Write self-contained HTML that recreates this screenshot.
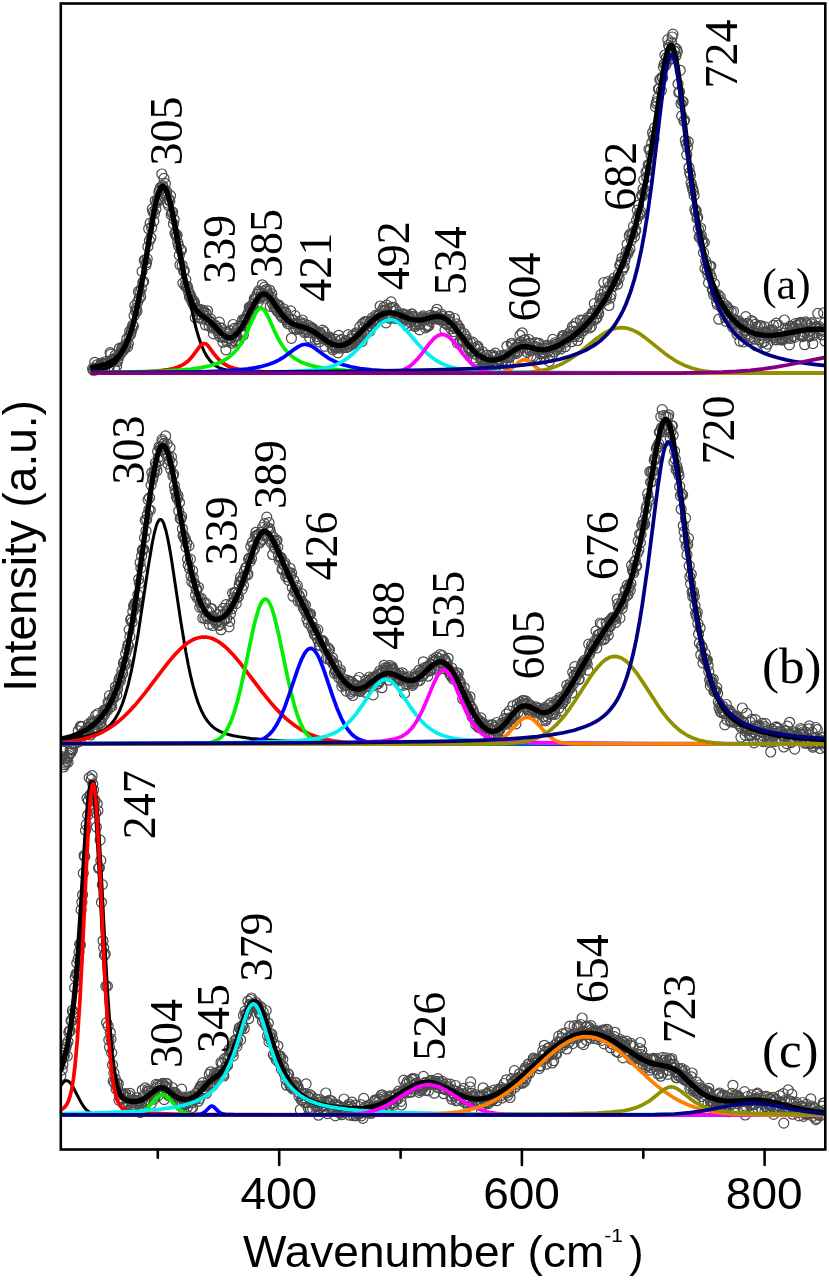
<!DOCTYPE html>
<html><head><meta charset="utf-8"><title>Raman spectra</title>
<style>
html,body{margin:0;padding:0;background:#fff;}
body{width:829px;height:1280px;overflow:hidden;}
svg{display:block;filter:blur(0.45px);}
.ax{font-family:"Liberation Sans",sans-serif;font-size:43px;fill:#000;}
.pk{font-family:"Liberation Serif",serif;font-size:46px;fill:#000;}
</style></head><body>
<svg width="829" height="1280" viewBox="0 0 829 1280">
<rect width="829" height="1280" fill="#fff"/>
<defs><clipPath id="cp"><rect x="60.8" y="3.5" width="764.5" height="1146"/></clipPath>
<marker id="o" markerUnits="userSpaceOnUse" markerWidth="14" markerHeight="14" refX="7" refY="7" overflow="visible"><circle cx="7" cy="7" r="5.0" fill="none" stroke="#4a4a4a" stroke-width="1.2"/></marker></defs>
<g clip-path="url(#cp)">
<polyline points="92.6,368.7 93.3,370.2 94.1,368.2 94.8,362.3 95.5,370 96.2,368.5 97,364.8 97.7,368.7 98.4,367.8 99.2,367.1 99.9,366.1 100.6,367.7 101.3,363 102.1,364.2 102.8,363.4 103.5,367.2 104.3,364.8 105,363.5 105.7,361.5 106.4,363 107.2,363.5 107.9,362.2 108.6,367.6 109.3,366.8 110.1,352.6 110.8,354.1 111.5,361.1 112.3,359.4 113,361.2 113.7,360.3 114.4,368.5 115.2,355.3 115.9,357.5 116.6,366 117.4,361.5 118.1,359.2 118.8,356.1 119.5,348.3 120.3,354.1 121,352.8 121.7,348.6 122.5,347 123.2,350.5 123.9,346.4 124.6,348.1 125.4,347.3 126.1,343.9 126.8,338.9 127.6,346.9 128.3,343.6 129,336.2 129.7,331.1 130.5,334.5 131.2,332.1 131.9,329.1 132.6,325.4 133.4,326.2 134.1,315.7 134.8,305.6 135.6,311.2 136.3,308.2 137,311.2 137.7,302 138.5,291.4 139.2,298.2 139.9,292.1 140.7,296.7 141.4,288.6 142.1,271.4 142.8,282.4 143.6,281.4 144.3,260.2 145,260.1 145.8,265.4 146.5,262.7 147.2,258.9 147.9,246.6 148.7,228.7 149.4,240.6 150.1,223.1 150.9,237.8 151.6,227.8 152.3,208.9 153,211.9 153.8,221.2 154.5,213.5 155.2,200.8 155.9,209 156.7,202.7 157.4,199.6 158.1,200 158.9,191.9 159.6,190.8 160.3,187.8 161,193.2 161.8,174 162.5,185.6 163.2,187.2 164,178.4 164.7,190.7 165.4,183.7 166.1,194.2 166.9,191.6 167.6,203.1 168.3,205.3 169.1,199.5 169.8,201.3 170.5,195.7 171.2,214.6 172,212.7 172.7,211.9 173.4,223.9 174.2,219.5 174.9,233.1 175.6,233.9 176.3,236.3 177.1,235.2 177.8,242.5 178.5,245.8 179.3,255.2 180,265 180.7,249.7 181.4,250.2 182.2,265.3 182.9,283.1 183.6,271.1 184.3,270.8 185.1,285.7 185.8,279.7 186.5,287.3 187.3,286.2 188,288.9 188.7,292.6 189.4,296.7 190.2,294.7 190.9,297 191.6,300.6 192.4,299.5 193.1,304.3 193.8,301.1 194.5,302.6 195.3,317.7 196,308.7 196.7,310.5 197.5,314.4 198.2,308.8 198.9,310.7 199.6,317.2 200.4,314.5 201.1,309.8 201.8,319 202.6,312.8 203.3,310.4 204,312.3 204.7,316.1 205.5,325 206.2,313.3 206.9,320 207.6,310.8 208.4,319.9 209.1,326 209.8,321 210.6,318.9 211.3,322.7 212,328.1 212.7,326.3 213.5,333.9 214.2,327.6 214.9,324.9 215.7,326.1 216.4,327.9 217.1,329.3 217.8,330.8 218.6,333.6 219.3,322.1 220,336.8 220.8,327.9 221.5,328.3 222.2,336.5 222.9,342.2 223.7,337.9 224.4,336.3 225.1,331.9 225.9,349.8 226.6,341.3 227.3,332.2 228,334.1 228.8,338.1 229.5,330.6 230.2,338.5 231,335.6 231.7,343.2 232.4,341.1 233.1,324.5 233.9,336.9 234.6,328.3 235.3,341.2 236,336.2 236.8,336 237.5,328.5 238.2,341.1 239,340.3 239.7,326 240.4,331.8 241.1,325.6 241.9,326.1 242.6,319.8 243.3,335 244.1,319.2 244.8,319.6 245.5,320.1 246.2,317.9 247,316.1 247.7,314.1 248.4,312.9 249.2,307.1 249.9,307.5 250.6,308.7 251.3,308.3 252.1,308.8 252.8,304.2 253.5,308 254.3,298.8 255,299.5 255.7,299.5 256.4,297 257.2,294.3 257.9,302.4 258.6,290.9 259.3,292.2 260.1,298.2 260.8,296.4 261.5,293.2 262.3,284.8 263,296.1 263.7,295.3 264.4,287.1 265.2,298 265.9,291.1 266.6,289.3 267.4,295.7 268.1,294 268.8,296.6 269.5,290 270.3,306.4 271,296.6 271.7,293.8 272.5,303.6 273.2,300.6 273.9,307.1 274.6,303.3 275.4,307.1 276.1,309.3 276.8,304.6 277.6,311.6 278.3,306.2 279,305.1 279.7,312.4 280.5,315.2 281.2,312.2 281.9,311.2 282.6,317.7 283.4,308.8 284.1,312.1 284.8,317.9 285.6,312.1 286.3,319.3 287,321.2 287.7,323.6 288.5,316.9 289.2,319.3 289.9,324.1 290.7,310.9 291.4,338.3 292.1,319.7 292.8,319.8 293.6,328.4 294.3,323.7 295,315.6 295.8,328.2 296.5,329.5 297.2,323.6 297.9,324.3 298.7,328.3 299.4,321.7 300.1,328.8 300.9,327.7 301.6,323.8 302.3,320 303,326.3 303.8,323.7 304.5,332.6 305.2,328.7 306,331.7 306.7,328.9 307.4,330.1 308.1,325.4 308.9,332.4 309.6,337.8 310.3,329.2 311,327.1 311.8,329.9 312.5,328.6 313.2,328.7 314,333.3 314.7,331.7 315.4,339.9 316.1,332.6 316.9,336.5 317.6,339 318.3,333.4 319.1,342 319.8,332.8 320.5,333 321.2,335.5 322,336.8 322.7,330.1 323.4,338.4 324.2,331.8 324.9,346.3 325.6,339.7 326.3,338 327.1,337.5 327.8,339.6 328.5,341.8 329.3,336.8 330,338.2 330.7,342.1 331.4,340.3 332.2,347.9 332.9,349.8 333.6,345 334.3,347 335.1,339.3 335.8,348.2 336.5,345.2 337.3,347.7 338,352.8 338.7,335.3 339.4,346.8 340.2,340.5 340.9,348.2 341.6,339.3 342.4,343.2 343.1,346.1 343.8,347.6 344.5,344.7 345.3,341.1 346,340.9 346.7,347.5 347.5,343.5 348.2,334.7 348.9,346.2 349.6,343.3 350.4,344.1 351.1,339 351.8,344.5 352.6,335.3 353.3,341.5 354,336.2 354.7,341.7 355.5,342.5 356.2,332.8 356.9,333.9 357.7,337.5 358.4,339.5 359.1,337.3 359.8,326.9 360.6,333.8 361.3,335 362,341.6 362.7,323.5 363.5,328.4 364.2,333.8 364.9,321.7 365.7,322 366.4,329 367.1,331.5 367.8,321.5 368.6,325.7 369.3,323.1 370,331.1 370.8,321.1 371.5,326.6 372.2,317.9 372.9,320.1 373.7,319.7 374.4,324.3 375.1,321.7 375.9,315.2 376.6,320.7 377.3,319.5 378,316.1 378.8,314.4 379.5,314.5 380.2,306 381,316.4 381.7,315.1 382.4,310.3 383.1,317.5 383.9,307 384.6,310.2 385.3,311 386,322.8 386.8,305.1 387.5,315.6 388.2,317.2 389,314.5 389.7,318.3 390.4,307.9 391.1,301.9 391.9,316.6 392.6,307.4 393.3,311.5 394.1,307.5 394.8,318.3 395.5,317.9 396.2,310.4 397,318.5 397.7,315 398.4,314.4 399.2,315.2 399.9,314.4 400.6,318 401.3,316.8 402.1,314.2 402.8,320.7 403.5,313.9 404.3,317.8 405,319.2 405.7,323.7 406.4,315 407.2,326.2 407.9,319.1 408.6,317.1 409.3,315.6 410.1,322 410.8,319.6 411.5,314 412.3,314.1 413,316.9 413.7,316.7 414.4,325.2 415.2,326.5 415.9,324.1 416.6,321.8 417.4,318.1 418.1,320.3 418.8,324.3 419.5,329.9 420.3,324.2 421,318.5 421.7,319.9 422.5,317.2 423.2,315.9 423.9,318.6 424.6,320 425.4,327.8 426.1,319 426.8,325.4 427.6,326.6 428.3,318.4 429,325.6 429.7,321.1 430.5,315.3 431.2,318.9 431.9,317.5 432.7,316.1 433.4,316 434.1,317.6 434.8,318.7 435.6,312.4 436.3,316.6 437,309.3 437.7,317.8 438.5,319.5 439.2,317.4 439.9,318.1 440.7,319.6 441.4,314.1 442.1,316.3 442.8,319.8 443.6,322.3 444.3,319.6 445,330.1 445.8,319.3 446.5,323.7 447.2,324.9 447.9,319.4 448.7,316.7 449.4,316.4 450.1,322.5 450.9,328.8 451.6,325.5 452.3,326.6 453,325.7 453.8,331.7 454.5,318.5 455.2,328 456,328.7 456.7,323.8 457.4,343.1 458.1,326.1 458.9,329.1 459.6,328 460.3,340.5 461,332.4 461.8,339.3 462.5,341.2 463.2,341 464,333.5 464.7,338.9 465.4,350.9 466.1,336.7 466.9,339.7 467.6,343.3 468.3,348.3 469.1,347.4 469.8,349.9 470.5,342.7 471.2,352.2 472,350.6 472.7,342.2 473.4,358 474.2,360.9 474.9,348.3 475.6,354.2 476.3,360.4 477.1,347 477.8,346.1 478.5,349 479.3,354 480,353.3 480.7,359.3 481.4,358.8 482.2,351.5 482.9,360.7 483.6,366.1 484.4,363.7 485.1,363 485.8,359 486.5,363.5 487.3,355.1 488,362.6 488.7,359.4 489.4,364.9 490.2,362.1 490.9,355.3 491.6,360.5 492.4,365.4 493.1,355.1 493.8,357.6 494.5,356.6 495.3,353.2 496,364.2 496.7,365.7 497.5,363.2 498.2,359.8 498.9,358.9 499.6,360.3 500.4,355.6 501.1,362.7 501.8,362.9 502.6,361.9 503.3,356 504,357.2 504.7,355.2 505.5,364.2 506.2,356.7 506.9,346.3 507.7,357.2 508.4,363.4 509.1,357.6 509.8,357.3 510.6,352.7 511.3,343.5 512,343.3 512.7,345.1 513.5,349.8 514.2,352 514.9,352.9 515.7,347.1 516.4,353.6 517.1,347.3 517.8,345.1 518.6,351.6 519.3,343.7 520,335.3 520.8,341.8 521.5,347.1 522.2,332.8 522.9,344.9 523.7,345 524.4,340 525.1,339.8 525.9,344.4 526.6,344.1 527.3,352.4 528,348.5 528.8,339.5 529.5,343.3 530.2,350.6 531,356.2 531.7,349.3 532.4,349.5 533.1,356.7 533.9,347.9 534.6,346.8 535.3,342.6 536,346.6 536.8,359.2 537.5,343.3 538.2,349.5 539,343.3 539.7,350.3 540.4,353.9 541.1,348.7 541.9,353.2 542.6,353.2 543.3,351.9 544.1,357.6 544.8,353.2 545.5,348.3 546.2,346.7 547,345.3 547.7,351.5 548.4,347.6 549.2,361.4 549.9,357 550.6,347.3 551.3,347 552.1,356.1 552.8,339.4 553.5,345.9 554.3,351.7 555,342.8 555.7,344.5 556.4,344.2 557.2,349.3 557.9,346 558.6,347.2 559.4,347 560.1,343.5 560.8,349 561.5,339.6 562.3,337 563,335.5 563.7,335.6 564.4,340.2 565.2,346.7 565.9,342 566.6,337.3 567.4,334.9 568.1,337 568.8,337.6 569.5,336.5 570.3,331.6 571,335.4 571.7,341.7 572.5,326.4 573.2,335 573.9,326.9 574.6,336.5 575.4,331.4 576.1,323 576.8,333.9 577.6,340.5 578.3,331.4 579,336.5 579.7,330.6 580.5,320.2 581.2,332.4 581.9,326.5 582.7,320.3 583.4,330.5 584.1,327.2 584.8,322.8 585.6,327.4 586.3,320.7 587,326.4 587.7,317.7 588.5,323.3 589.2,318.1 589.9,327.8 590.7,320.8 591.4,326.3 592.1,313 592.8,314.3 593.6,320.3 594.3,303.6 595,310.3 595.8,319.1 596.5,313.9 597.2,317.2 597.9,310.9 598.7,313.5 599.4,305.2 600.1,298.4 600.9,294.7 601.6,302.8 602.3,299.9 603,297.8 603.8,282.5 604.5,290.7 605.2,298.2 606,300 606.7,296.3 607.4,290.8 608.1,281.6 608.9,305.5 609.6,286.1 610.3,298.1 611,294.7 611.8,286.7 612.5,281.9 613.2,286.4 614,278 614.7,281 615.4,281.2 616.1,281.5 616.9,279.2 617.6,284.2 618.3,274.4 619.1,278.2 619.8,265.4 620.5,264.7 621.2,261.8 622,257.8 622.7,270.1 623.4,267.7 624.2,266.9 624.9,260.4 625.6,256.8 626.3,251.5 627.1,244.3 627.8,253.9 628.5,251.5 629.3,235.5 630,249 630.7,233.5 631.4,240.1 632.2,234.2 632.9,234 633.6,226.2 634.4,236.8 635.1,231.4 635.8,230 636.5,220.4 637.3,210.2 638,216.3 638.7,205.2 639.4,213.3 640.2,214.6 640.9,211.9 641.6,195.1 642.4,196 643.1,189 643.8,179.9 644.5,192.6 645.3,190.4 646,171.9 646.7,177.3 647.5,170.3 648.2,164.6 648.9,149.3 649.6,164.5 650.4,149.7 651.1,155.2 651.8,142.8 652.6,132.5 653.3,135.8 654,138.9 654.7,127.7 655.5,106.8 656.2,103.5 656.9,101.5 657.7,97.9 658.4,89 659.1,88.8 659.8,79.6 660.6,79.1 661.3,90.6 662,77.3 662.7,77.9 663.5,67.3 664.2,63.9 664.9,55 665.7,65.3 666.4,57.7 667.1,62.2 667.8,39.6 668.6,45 669.3,47.3 670,55.5 670.8,58.3 671.5,42 672.2,37 672.9,34.2 673.7,58.8 674.4,51.1 675.1,48 675.9,56 676.6,49.4 677.3,51.7 678,84 678.8,92.6 679.5,91.8 680.2,70.3 681,103.5 681.7,115.9 682.4,101.6 683.1,101.7 683.9,121.1 684.6,120.1 685.3,140.3 686.1,143.9 686.8,154.7 687.5,147.2 688.2,141.7 689,167.5 689.7,172.6 690.4,175.1 691.1,183 691.9,186.1 692.6,188.8 693.3,191.2 694.1,195.4 694.8,209.2 695.5,211.7 696.2,210.7 697,218.4 697.7,217.2 698.4,228.8 699.2,237.3 699.9,236.4 700.6,228 701.3,235.5 702.1,240.1 702.8,243.1 703.5,252.7 704.3,242.4 705,268.6 705.7,260.9 706.4,263.9 707.2,270.5 707.9,274.5 708.6,282.9 709.4,266 710.1,274.1 710.8,266 711.5,277.6 712.3,289.2 713,290.6 713.7,295 714.4,283.6 715.2,293.4 715.9,296.1 716.6,302.1 717.4,304.5 718.1,294.8 718.8,319.2 719.5,299.9 720.3,297.1 721,306 721.7,307.7 722.5,307.1 723.2,303.1 723.9,314.3 724.6,308.9 725.4,317.4 726.1,321.3 726.8,306.2 727.6,307.8 728.3,309.7 729,316.9 729.7,316.6 730.5,317.9 731.2,311.6 731.9,321.1 732.7,327.3 733.4,311.3 734.1,320 734.8,322.8 735.6,320.1 736.3,321.4 737,334 737.7,331.9 738.5,329.3 739.2,321.2 739.9,341.1 740.7,328 741.4,323.6 742.1,325.6 742.8,324.2 743.6,342 744.3,330.8 745,330.1 745.8,316.6 746.5,334.3 747.2,323.4 747.9,323.7 748.7,335.3 749.4,326 750.1,337.1 750.9,339.3 751.6,320.6 752.3,331.9 753,321.9 753.8,333.2 754.5,339.2 755.2,324.4 756,345.7 756.7,331.7 757.4,326.5 758.1,333.4 758.9,339.7 759.6,325.7 760.3,334.9 761.1,325.8 761.8,342.7 762.5,336 763.2,332.2 764,341.9 764.7,326.8 765.4,332.6 766.1,347.3 766.9,334.5 767.6,344.1 768.3,336.6 769.1,330.7 769.8,333.7 770.5,335.8 771.2,332.6 772,329.8 772.7,330.1 773.4,325.4 774.2,335.8 774.9,337.5 775.6,339.8 776.3,323.1 777.1,339.6 777.8,334.5 778.5,325.1 779.3,335 780,339.6 780.7,337.7 781.4,338.7 782.2,340.1 782.9,339.6 783.6,333.2 784.4,320 785.1,328.4 785.8,335.8 786.5,330.1 787.3,337.3 788,338.1 788.7,333.2 789.4,344.8 790.2,326.1 790.9,338.4 791.6,329.2 792.4,326.6 793.1,335.9 793.8,327.8 794.5,337.3 795.3,323.6 796,331.6 796.7,325.5 797.5,329.5 798.2,328.5 798.9,323.6 799.6,334.8 800.4,322.3 801.1,323.9 801.8,336.1 802.6,336.6 803.3,334.6 804,332.1 804.7,344.7 805.5,321.9 806.2,324.9 806.9,323.1 807.7,335.4 808.4,331.2 809.1,336.6 809.8,335.7 810.6,327.9 811.3,323.9 812,322.7 812.8,343.6 813.5,335.4 814.2,333 814.9,326.9 815.7,327.8 816.4,326.8 817.1,327 817.8,313.4 818.6,328.8 819.3,326.7 820,331.1 820.8,330.6 821.5,334.8 822.2,329.5 822.9,334.6 823.7,312.8 824.4,322.7 825.1,341.2" fill="none" stroke="none" marker-start="url(#o)" marker-mid="url(#o)" marker-end="url(#o)"/>
<path d="M92.6 367.3l7.5-1.5 6-1.7 5-2.2 4-2.6 3.5-3.3 3.5-4.6 3-5.3 3-6.7 3-8.6 2.5-8.7 2.5-10.2 2.5-11.6 4.5-24.1 9-54 2-10.8 2-9.5 2-7.6 1.5-4.2 1-2 1-1.3 1-0.6 0.5 0 0.5 0.1 1 0.9 1.5 2.5 1.5 3.9 2 7.2 3.5 16.5 7 38.4 3.5 17.6 2 8.8 2 7.6 2 6.5 2 5.4 1.5 3.3 1.5 2.8 1.5 2.2 2 2.4 2.5 2.3 6 4.2 3 2.4 3.5 3.4 8.5 9.2 2.5 2 2.5 1.4 1.5 0.4 1.5 0.2 2.5-0.5 2.5-1.5 3-2.8 3-4 3-4.9 9.5-18.4 3.5-5.9 2-2.7 2-1.9 2-1 1.5-0.2 1 0.2 1.5 0.7 1.5 1 1.5 1.5 3 3.8 6.5 9.5 3 4 3.5 3.9 3.5 2.9 2.5 1.6 3 1.5 3 1 8 2.4 5 2.1 5.5 3.2 9.5 6.9 3.5 2.2 4 2 3.5 1 3 0.2 3-0.4 3-1 3.5-1.9 3-2.1 3.5-3 14-14 3-2.8 3-2.4 3.5-2.3 3.5-1.7 3-0.9 3.5-0.4 3 0.2 3.5 0.7 3.5 1.2 10 3.9 3 0.8 3 0.5 3 0.1 3.5-0.3 3.5-0.8 7-1.8 4-0.7 2 0 2 0.2 2 0.6 2 0.8 2 1.1 2 1.5 2 1.7 2.5 2.6 4 4.8 11.5 15.2 3.5 4 3 3 3.5 2.9 3.5 2.2 3.5 1.6 4 1.1 3 0.3 3-0.1 3-0.6 3-1 2.5-1.1 2.5-1.5 10-6.8 3-1.5 2.5-0.8 2.5-0.2 2.5 0.1 2.5 0.5 9 2.4 3 0.4 3 0 4-0.7 4-1.2 4.5-1.8 5-2.6 5-3 5-3.4 4.5-3.4 4.5-3.9 4.5-4.4 4-4.3 4.5-5.3 4-5.3 4-5.8 4-6.3 4-7 3.5-6.6 3.5-7.2 3.5-7.8 3.5-8.5 3-7.9 4.5-13.2 4.5-15.1 4-15.5 4-17.7 4-20.4 3.5-20.2 3.5-22.4 7-47.6 3-18 1.5-7.3 1.5-5.7 1.5-3.6 1-1.3 0.5-0.2 0.5 0 0.5 0.4 0.5 0.5 1 2 1 3 1.5 6.4 2 11.6 3 22.1 7.5 63.4 3.5 27.4 4 27.5 4.5 25.7 2 9.9 2.5 11 2.5 9.7 2.5 8.5 2.5 7.6 3 7.9 3 6.8 3 6 3.5 5.9 4 5.7 4 4.8 4.5 4.5 4.5 3.5 4.5 2.8 5 2.4 5 1.6 3.5 0.8 4 0.5 4 0.2 4.5-0.1 9-1 18.5-3.5 8-1.2 4.5-0.3 4.5-0.1 4.5 0.2 4 0.5" fill="none" stroke="#000" stroke-width="5.3" stroke-linejoin="round" stroke-linecap="round"/>
<path d="M90.8 371.1l7.5-0.8 5.5-1.1 4.5-1.6 4-2.3 3.5-3 3.5-4.4 3-5.1 3-6.6 3-8.3 2.5-8.4 2.5-9.7 2.5-11.1 5-25.5 9.5-53.7 2.5-12.7 2-9 2.5-9.2 2-5.5 1.5-2.8 1-1.2 1-0.7 1-0.2 1 0.4 1 0.9 1 1.4 1.5 3.2 2 5.8 2.5 9.6 4 19.4 9.5 53.7 4 20.9 4.5 19.9 2 7.5 2.5 8.2 2.5 6.8 2.5 5.7 2.5 4.6 3 4.2 3 3.2 3 2.3 3.5 1.9 4 1.4 4 0.9 4.5 0.6 14 0.9 27 0.7 40.5 0.4 141 0.4 373.5 0.1" fill="none" stroke="#000000" stroke-width="3.0" stroke-linejoin="round"/>
<path d="M90.8 372.8l34.5-0.4 22-0.8 8-0.5 7-0.7 6-0.8 5-1.1 4-1.2 3.5-1.5 3-1.6 3-2.1 2.5-2.3 2.5-2.7 8.5-11.4 2-1.7 1-0.4 1-0.1 1 0.2 1 0.5 2 1.9 7 9.5 4 4.5 4 3.3 4 2.3 3 1.3 3 1 7.5 1.7 9.5 1.2 12.5 0.8 15 0.5 20 0.4 66 0.4 464 0.2" fill="none" stroke="#ff0000" stroke-width="3.7" stroke-linejoin="round"/>
<path d="M90.8 372.5l54-0.9 19-0.6 15-0.9 12.5-1.1 10-1.4 8.5-1.8 7.5-2.3 6-2.7 5-3.1 4.5-3.8 2.5-2.6 2-2.4 3.5-5 3.5-6.2 3-6.2 6-13.5 2.5-4.9 1.5-2.3 1-1.2 1.5-1.1 1-0.3 1 0.1 1.5 0.9 1 1 1.5 2.2 3 5.8 7 15.7 4 7.7 2.5 4 2.5 3.4 3 3.5 3 2.9 3.5 2.7 3.5 2.2 4 2 4.5 1.8 5 1.5 5.5 1.3 6.5 1.1 7 1 16 1.3 21 1 27.5 0.7 38 0.5 123.5 0.5 271.5 0.1" fill="none" stroke="#00f000" stroke-width="3.7" stroke-linejoin="round"/>
<path d="M90.8 372.8l66-0.4 42.5-0.6 15.5-0.5 13-0.7 11-0.8 9.5-1 7.5-1.2 6.5-1.4 6-1.7 5.5-2 5-2.4 4.5-2.7 4-2.8 8-6 3-2 3.5-1.6 2-0.5 1.5-0.1 3 0.4 3.5 1.5 3 1.9 9.5 7.1 5 3.3 6.5 3.4 6.5 2.5 8.5 2.3 9.5 1.7 11.5 1.3 14 1 17 0.7 21.5 0.5 64.5 0.7 113.5 0.3 225.5 0.1" fill="none" stroke="#0000ff" stroke-width="3.7" stroke-linejoin="round"/>
<path d="M90.8 373l111-0.3 63.5-0.7 21-0.5 15.5-0.6 11-0.9 9-1.2 7-1.6 6.5-2.1 6-2.9 5.5-3.5 5.5-4.4 5.5-5.3 5-5.5 11-12.8 5.5-5.7 3-2.4 2.5-1.5 3-1.1 2.5-0.3 2.5 0.3 2.5 0.9 2.5 1.5 3 2.4 5.5 5.5 11.5 13.5 5.5 5.9 6 5.6 6 4.6 3 1.8 3.5 1.9 6.5 2.6 7.5 2.1 9 1.4 11.5 1 16.5 0.8 24 0.5 31.5 0.4 95.5 0.5 184 0.2" fill="none" stroke="#00f0f0" stroke-width="3.7" stroke-linejoin="round"/>
<path d="M90.8 373.2l280 0 13.5-0.2 8-0.5 5.5-0.9 4.5-1.3 4-1.8 4-2.6 3.5-3.1 4-4.2 3.5-4.3 8-10.6 4-4.5 2.5-2.2 2-1.3 2.5-1 2-0.3 2 0.3 2.5 1 2 1.3 2.5 2.2 4 4.5 8 10.6 3.5 4.3 4 4.2 3.5 3.1 4 2.6 4.5 2 4.5 1.3 5.5 0.8 8 0.5 14 0.1 313 0" fill="none" stroke="#ff00ff" stroke-width="3.7" stroke-linejoin="round"/>
<path d="M90.8 373.2l405.5-0.1 3.5-0.2 3-0.4 2.5-0.6 2.5-1 2-1.1 2-1.5 6.5-5.7 2-1.5 2.5-1.2 2-0.3 2 0.4 2.5 1.4 8 6.9 2 1.4 2 1.1 2 0.9 2.5 0.7 2.5 0.4 3.5 0.3 12 0.1 264 0" fill="none" stroke="#ff8000" stroke-width="3.7" stroke-linejoin="round"/>
<path d="M90.8 373.2l399 0 24.5-0.3 15-0.7 9.5-1.2 8-1.6 7.5-2.3 7-3 6.5-3.6 7-4.6 6.5-4.9 15-12.2 4-2.9 4-2.7 4.5-2.4 4.5-1.9 4-0.9 4-0.4 3.5 0.2 4 0.9 3.5 1.2 4 1.9 4 2.4 4.5 3.2 20 16 5 3.6 5 3.3 5.5 3.1 6 2.7 6 2.2 6.5 1.7 6 1.1 7 0.9 8 0.6 9.5 0.3 23 0.3 75.5 0" fill="none" stroke="#909000" stroke-width="3.7" stroke-linejoin="round"/>
<path d="M90.8 372.7l155-0.5 105-0.8 73.5-1.2 28.5-0.8 24.5-1 21.5-1.2 18.5-1.5 16-1.8 14-2.1 12.5-2.6 11-3.1 9.5-3.5 4.5-2 4-2.1 4-2.4 4-2.7 3.5-2.6 3.5-3.1 3.5-3.5 3-3.4 3-3.8 2.5-3.6 5-8.4 2.5-5 2.5-5.5 4.5-11.9 4-12.9 3.5-13.5 3.5-16.1 3-16.1 3-18.5 4.5-32.3 9.5-79.3 2-15.5 2-13.3 1.5-8.2 1.5-6.1 1.5-4 1-1.3 0.5-0.3 0.5 0 1 0.9 1 2 1 3 1.5 6.3 2 11.4 3.5 25.9 7 59.2 4 31.4 4 27.3 4 22.9 4.5 21.1 4.5 16.9 2.5 8 2.5 7 3 7.4 3 6.4 3.5 6.4 3.5 5.6 4 5.4 4.5 5.1 4.5 4.3 5 4.1 5.5 3.6 6 3.3 6 2.8 7 2.6 7.5 2.3 8.5 2.1 9 1.8 9.5 1.5 11 1.4 12 1.3" fill="none" stroke="#000080" stroke-width="3.7" stroke-linejoin="round"/>
<path d="M90.8 373.2l546 0 41-0.1 26.5-0.4 17-0.5 15-0.8 14-1.1 13-1.5 12-1.7 12-2.1 40.5-8.1" fill="none" stroke="#800080" stroke-width="3.7" stroke-linejoin="round"/>
<polyline points="60.8,757.7 61.5,756.7 62.2,758.5 62.9,751.2 63.7,767 64.4,764.7 65.1,758.9 65.9,763.1 66.6,761.1 67.3,757.7 68,762.2 68.8,755.6 69.5,753.7 70.2,749.9 71,752.5 71.7,748.7 72.4,749.7 73.1,743 73.9,744.2 74.6,738.6 75.3,743.6 76.1,740 76.8,738.5 77.5,738.2 78.2,730.8 79,736.5 79.7,741.4 80.4,726.4 81.1,726.3 81.9,726.9 82.6,735.2 83.3,732.3 84.1,735.1 84.8,733.5 85.5,730.8 86.2,730.8 87,728.6 87.7,732.3 88.4,724.2 89.2,726.5 89.9,727.2 90.6,735 91.3,723.4 92.1,720.9 92.8,722.7 93.5,727.5 94.3,722.7 95,729.5 95.7,715.5 96.4,727.6 97.2,724.7 97.9,713.7 98.6,720.8 99.4,723.5 100.1,719 100.8,722.8 101.5,726.6 102.3,718.3 103,714.2 103.7,710.4 104.4,714.6 105.2,709.5 105.9,710.4 106.6,708.9 107.4,710.6 108.1,702.1 108.8,703.4 109.5,695.7 110.3,707.1 111,704 111.7,706.4 112.5,697.5 113.2,697.5 113.9,698.1 114.6,693.2 115.4,686.8 116.1,689.6 116.8,695.1 117.6,689.1 118.3,684 119,679.7 119.7,678 120.5,680.6 121.2,676.2 121.9,670.8 122.7,673.4 123.4,663.3 124.1,661.8 124.8,665.3 125.6,653.7 126.3,663 127,649.6 127.8,644.9 128.5,645.6 129.2,629.7 129.9,636.4 130.7,619.7 131.4,618.8 132.1,622.2 132.8,611.5 133.6,605.6 134.3,606.3 135,603 135.8,607.9 136.5,602.1 137.2,605.3 137.9,594.6 138.7,579.3 139.4,583.3 140.1,562.5 140.9,568.1 141.6,555.9 142.3,550.3 143,549.3 143.8,549.4 144.5,537.7 145.2,520.2 146,530.9 146.7,519.6 147.4,514.8 148.1,499.6 148.9,509.6 149.6,497.6 150.3,510.1 151.1,485.1 151.8,472.6 152.5,479.5 153.2,476.4 154,473.1 154.7,470.6 155.4,463 156.1,465.5 156.9,470.8 157.6,451.4 158.3,457.6 159.1,446.7 159.8,460.5 160.5,447.3 161.2,449.3 162,439.7 162.7,441.5 163.4,446.6 164.2,443.3 164.9,449.5 165.6,435.9 166.3,454.4 167.1,443.8 167.8,463.9 168.5,456.4 169.3,460.2 170,447.6 170.7,469.2 171.4,456.9 172.2,463.1 172.9,475.7 173.6,474.1 174.4,485.5 175.1,490.3 175.8,492.3 176.5,496.6 177.3,498.9 178,495.8 178.7,511 179.5,502.5 180.2,518.5 180.9,518.7 181.6,516.4 182.4,528.8 183.1,535.5 183.8,535.6 184.5,538.7 185.3,538.6 186,547.1 186.7,542.8 187.5,559.1 188.2,564.9 188.9,545.9 189.6,568.4 190.4,559.1 191.1,576 191.8,581.8 192.6,570.6 193.3,577.6 194,583.8 194.7,583.8 195.5,595 196.2,589.6 196.9,589.5 197.7,598.4 198.4,587.3 199.1,597.4 199.8,607.3 200.6,602.9 201.3,598.4 202,607 202.8,618 203.5,607.1 204.2,603.4 204.9,618.3 205.7,602.9 206.4,615.8 207.1,611.7 207.8,618.9 208.6,611.2 209.3,624.3 210,617.6 210.8,608.9 211.5,608.5 212.2,616.7 212.9,625.5 213.7,619.8 214.4,619.8 215.1,617.7 215.9,623.2 216.6,621.3 217.3,620.9 218,614.3 218.8,625 219.5,625.4 220.2,611.6 221,629.7 221.7,622 222.4,615.2 223.1,608.4 223.9,620.3 224.6,619.2 225.3,612.8 226.1,604.6 226.8,618.5 227.5,610.8 228.2,608.4 229,626.9 229.7,621.4 230.4,613.8 231.1,603.9 231.9,608.8 232.6,593.1 233.3,602.5 234.1,597.6 234.8,592.3 235.5,592.9 236.2,603.6 237,597.7 237.7,594 238.4,596.9 239.2,585.1 239.9,581.5 240.6,577.2 241.3,582 242.1,589.1 242.8,578.2 243.5,585.1 244.3,571.4 245,576 245.7,567.7 246.4,567.9 247.2,575 247.9,574.2 248.6,559.3 249.4,558 250.1,561.4 250.8,546.4 251.5,558.5 252.3,542.4 253,551.1 253.7,544.8 254.5,548.5 255.2,536.2 255.9,532.3 256.6,535.3 257.4,535.9 258.1,537.8 258.8,534.1 259.5,543 260.3,541.2 261,532.2 261.7,539.3 262.5,527.5 263.2,539.4 263.9,534.4 264.6,523.6 265.4,535.5 266.1,535.9 266.8,517.1 267.6,527.9 268.3,530.3 269,522.6 269.7,528.7 270.5,531.9 271.2,542.5 271.9,540.4 272.7,554.5 273.4,537.3 274.1,547.1 274.8,542.8 275.6,548.7 276.3,541.3 277,540.1 277.8,547.1 278.5,555.7 279.2,560.3 279.9,558.2 280.7,557.3 281.4,558.1 282.1,569.5 282.8,568.9 283.6,564.8 284.3,564.7 285,563 285.8,576.6 286.5,573.5 287.2,571.2 287.9,577 288.7,580.4 289.4,572.8 290.1,568.3 290.9,575.9 291.6,573.1 292.3,587.4 293,596.2 293.8,580.3 294.5,591.9 295.2,589.8 296,587.1 296.7,592.6 297.4,585.7 298.1,601.3 298.9,594.9 299.6,596.8 300.3,601.4 301.1,601.2 301.8,593.8 302.5,602.3 303.2,607.8 304,605.7 304.7,610 305.4,605 306.1,612.5 306.9,619.2 307.6,614.9 308.3,623 309.1,614.9 309.8,613.5 310.5,614.3 311.2,626.3 312,622.3 312.7,629.6 313.4,627.2 314.2,634.2 314.9,634.9 315.6,630.3 316.3,634.1 317.1,638.3 317.8,629.6 318.5,641.3 319.3,645.4 320,645.3 320.7,640.3 321.4,641.1 322.2,641.7 322.9,640.7 323.6,642.2 324.4,647 325.1,648.3 325.8,649.9 326.5,658.3 327.3,647.4 328,659.1 328.7,648.6 329.5,650 330.2,659.4 330.9,660.3 331.6,660.7 332.4,657.8 333.1,663.9 333.8,663.9 334.5,673.2 335.3,669.9 336,671.9 336.7,664.8 337.5,673.9 338.2,671.9 338.9,677.9 339.6,672 340.4,670 341.1,679.9 341.8,686.3 342.6,683.2 343.3,681 344,679 344.7,685.5 345.5,684.4 346.2,691.1 346.9,685.8 347.7,680.4 348.4,684.1 349.1,681.9 349.8,681.3 350.6,693.3 351.3,691.3 352,682.1 352.8,695.5 353.5,689.6 354.2,684.2 354.9,690.8 355.7,688.6 356.4,685.3 357.1,680.5 357.8,689.2 358.6,690.4 359.3,677.5 360,691.3 360.8,691 361.5,686.3 362.2,688.7 362.9,686.8 363.7,684.4 364.4,684.9 365.1,692.2 365.9,680.3 366.6,686.6 367.3,686 368,681.9 368.8,682.5 369.5,677 370.2,680.1 371,683 371.7,683.6 372.4,677.4 373.1,694.9 373.9,677.6 374.6,680 375.3,678.7 376.1,676.7 376.8,684.3 377.5,674.5 378.2,683.9 379,681.9 379.7,671 380.4,680.6 381.2,672.5 381.9,687.7 382.6,672.7 383.3,670.4 384.1,665.3 384.8,667.9 385.5,671.3 386.2,668.9 387,667.9 387.7,670.2 388.4,672.5 389.2,680.1 389.9,665.6 390.6,671.1 391.3,669.1 392.1,666.8 392.8,668.7 393.5,670.2 394.3,678.4 395,673.9 395.7,672.7 396.4,677.9 397.2,677.5 397.9,675.1 398.6,678.6 399.4,673.3 400.1,680.4 400.8,680 401.5,676.1 402.3,672.8 403,685.4 403.7,678.7 404.5,693.4 405.2,677.2 405.9,684 406.6,678.5 407.4,681.5 408.1,684.1 408.8,676.8 409.5,680.2 410.3,681.4 411,681.2 411.7,683.2 412.5,685.3 413.2,684 413.9,681.4 414.6,678.3 415.4,674 416.1,676 416.8,675.8 417.6,680.9 418.3,676.7 419,670.3 419.7,680.6 420.5,672.7 421.2,671.7 421.9,675.6 422.7,675.9 423.4,661.8 424.1,668 424.8,673 425.6,669.8 426.3,667.1 427,666.8 427.8,676.2 428.5,666.6 429.2,671.1 429.9,670.4 430.7,663.8 431.4,669.2 432.1,664.7 432.8,662 433.6,659 434.3,668.5 435,661.3 435.8,660.1 436.5,657.1 437.2,670.4 437.9,665.8 438.7,661.3 439.4,658.5 440.1,654.6 440.9,663.1 441.6,663.3 442.3,655.7 443,668.6 443.8,666.6 444.5,659.1 445.2,660.3 446,661.8 446.7,666.3 447.4,663.9 448.1,658.3 448.9,672.1 449.6,670.8 450.3,674.4 451.1,676.2 451.8,668 452.5,671.8 453.2,679 454,677.4 454.7,674 455.4,674.8 456.2,679.3 456.9,672.9 457.6,677 458.3,673.3 459.1,684.4 459.8,681.4 460.5,683.8 461.2,687.8 462,691.9 462.7,699 463.4,692.7 464.2,687.5 464.9,696.9 465.6,695 466.3,700.4 467.1,697.5 467.8,699.3 468.5,702.2 469.3,703.2 470,696.8 470.7,706.9 471.4,707.1 472.2,717 472.9,710 473.6,712.8 474.4,718.8 475.1,715.8 475.8,724.9 476.5,721.2 477.3,718.8 478,726.7 478.7,727.5 479.5,720.6 480.2,723 480.9,717.9 481.6,724.1 482.4,722.7 483.1,725.2 483.8,726.5 484.5,728.4 485.3,728 486,730.8 486.7,730.2 487.5,727.8 488.2,725.2 488.9,735.5 489.6,736.1 490.4,729.2 491.1,733.6 491.8,724.9 492.6,724.8 493.3,730.2 494,737.4 494.7,726.8 495.5,727.4 496.2,737.1 496.9,722.5 497.7,733.1 498.4,731.1 499.1,728 499.8,729.7 500.6,740.3 501.3,723.4 502,725.5 502.8,724.8 503.5,723 504.2,718.6 504.9,731.3 505.7,724.4 506.4,714.2 507.1,718.6 507.9,722 508.6,720.3 509.3,711.2 510,717.9 510.8,718.1 511.5,718.8 512.2,717.9 512.9,705.8 513.7,721.7 514.4,714.9 515.1,718.9 515.9,723.9 516.6,709.5 517.3,703.6 518,712.2 518.8,707.4 519.5,706.8 520.2,702.4 521,714.5 521.7,705 522.4,700.7 523.1,703.8 523.9,700.7 524.6,706.5 525.3,703.9 526.1,701.1 526.8,708.4 527.5,703.4 528.2,709.7 529,712.2 529.7,705.7 530.4,705 531.2,708 531.9,711.6 532.6,708.6 533.3,709.3 534.1,709 534.8,711.2 535.5,712.9 536.2,706.9 537,708.5 537.7,710.8 538.4,708.3 539.2,711.8 539.9,713.6 540.6,711.8 541.3,709.5 542.1,709.1 542.8,720.3 543.5,716.5 544.3,707.7 545,708.9 545.7,720.8 546.4,719.1 547.2,712.9 547.9,717 548.6,705.2 549.4,710.7 550.1,714.4 550.8,703.2 551.5,706.6 552.3,713.5 553,714 553.7,705.1 554.5,709.6 555.2,714.3 555.9,704.3 556.6,700.6 557.4,704.5 558.1,701.8 558.8,708.3 559.5,702 560.3,697.3 561,710.9 561.7,698.8 562.5,703.5 563.2,701.7 563.9,698.4 564.6,696.1 565.4,699.7 566.1,693.5 566.8,685.3 567.6,692.3 568.3,688.3 569,689.4 569.7,686.9 570.5,683.5 571.2,687.2 571.9,693 572.7,672.2 573.4,683.6 574.1,675.5 574.8,666.7 575.6,678.5 576.3,673.6 577,675.2 577.8,671.9 578.5,679.7 579.2,678.9 579.9,671.4 580.7,670.9 581.4,666 582.1,666.5 582.9,662.5 583.6,663.4 584.3,660.4 585,663 585.8,663.1 586.5,660.7 587.2,664.1 587.9,670.2 588.7,644.1 589.4,654.5 590.1,651.9 590.9,649.9 591.6,645.1 592.3,647.5 593,646.7 593.8,645.6 594.5,644 595.2,640.6 596,631.1 596.7,648 597.4,639.4 598.1,634.8 598.9,639.2 599.6,633.9 600.3,623 601.1,640.3 601.8,624.2 602.5,632.3 603.2,634.9 604,639.5 604.7,638.4 605.4,632 606.2,622.8 606.9,625.7 607.6,631 608.3,635.2 609.1,626.8 609.8,620.8 610.5,626.2 611.2,619.1 612,618.1 612.7,617.3 613.4,617.9 614.2,617.3 614.9,619.4 615.6,622.5 616.3,616.5 617.1,599 617.8,603.9 618.5,608.1 619.3,607.2 620,618.1 620.7,605.3 621.4,603.3 622.2,608.2 622.9,604.1 623.6,596.7 624.4,597.8 625.1,590.2 625.8,590.6 626.5,596.1 627.3,585.1 628,594.8 628.7,588.4 629.5,585.8 630.2,590.2 630.9,583.5 631.6,565.2 632.4,569.5 633.1,571.3 633.8,572.8 634.6,562 635.3,560.7 636,566 636.7,566 637.5,553 638.2,541.1 638.9,550.1 639.6,534.1 640.4,542.6 641.1,534.4 641.8,524.9 642.6,525.9 643.3,520.5 644,525.2 644.7,523.7 645.5,515.1 646.2,508.5 646.9,505.9 647.7,493.7 648.4,498.1 649.1,500.5 649.8,471.7 650.6,482.1 651.3,471.6 652,481.7 652.8,471.4 653.5,470.8 654.2,460.2 654.9,458 655.7,459.2 656.4,448.9 657.1,446.9 657.9,446.5 658.6,443.7 659.3,432.1 660,431.9 660.8,416.6 661.5,427.8 662.2,409.6 662.9,427.4 663.7,415.6 664.4,429.6 665.1,441.2 665.9,416.5 666.6,428.8 667.3,424.8 668,417 668.8,414.8 669.5,428.4 670.2,438.2 671,431.5 671.7,425.8 672.4,425.9 673.1,435.3 673.9,462.1 674.6,451.1 675.3,459 676.1,469.8 676.8,465.9 677.5,469 678.2,472.5 679,475.5 679.7,486.4 680.4,495.8 681.2,509.2 681.9,493.9 682.6,495 683.3,525.5 684.1,531.7 684.8,539 685.5,518.2 686.2,546 687,554.7 687.7,544.5 688.4,538.1 689.2,565.7 689.9,576.6 690.6,583.8 691.3,574.3 692.1,592 692.8,596.7 693.5,591.7 694.3,596.5 695,605.7 695.7,613.2 696.4,616 697.2,612.2 697.9,623.6 698.6,634 699.4,643 700.1,628 700.8,654.8 701.5,645.9 702.3,647.6 703,663.1 703.7,657.5 704.5,658.6 705.2,653.7 705.9,660.4 706.6,660 707.4,660.3 708.1,665.6 708.8,671.6 709.6,680 710.3,685.8 711,678.8 711.7,683.4 712.5,682.6 713.2,679.1 713.9,691.4 714.6,691.2 715.4,690.6 716.1,691 716.8,687.6 717.6,693.4 718.3,701.7 719,708.1 719.7,704.3 720.5,711.8 721.2,707.4 721.9,712.8 722.7,706 723.4,710.6 724.1,713.4 724.8,724.9 725.6,713.3 726.3,704.5 727,719.8 727.8,709.8 728.5,712.1 729.2,713.8 729.9,710.7 730.7,722 731.4,720.9 732.1,713.8 732.9,719.3 733.6,717.4 734.3,722.2 735,717.3 735.8,716.4 736.5,716.6 737.2,719.6 737.9,723.8 738.7,717.9 739.4,721.6 740.1,726 740.9,737.2 741.6,728.3 742.3,708 743,721.5 743.8,723.1 744.5,727 745.2,735.3 746,731.2 746.7,713.4 747.4,728.8 748.1,728.3 748.9,729.8 749.6,735.8 750.3,722 751.1,735 751.8,719.4 752.5,729.5 753.2,731.9 754,742.8 754.7,725.8 755.4,719.7 756.2,734.4 756.9,726.8 757.6,740.3 758.3,726.3 759.1,725.7 759.8,738.7 760.5,731.7 761.2,737.6 762,723.4 762.7,741.6 763.4,728.5 764.2,736.9 764.9,726.6 765.6,723.7 766.3,731.3 767.1,734.4 767.8,742.1 768.5,735.2 769.3,737.7 770,737.2 770.7,752 771.4,729.1 772.2,741.4 772.9,733.2 773.6,735.9 774.4,731.2 775.1,741.4 775.8,727.3 776.5,726.9 777.3,733.5 778,728.1 778.7,739.3 779.5,740.6 780.2,731 780.9,740.1 781.6,731.8 782.4,735.4 783.1,735.7 783.8,747 784.6,736 785.3,730.6 786,730.8 786.7,743.6 787.5,726.2 788.2,733.8 788.9,734.3 789.6,722.3 790.4,733.9 791.1,742.6 791.8,738.5 792.6,731.7 793.3,741.1 794,740.2 794.7,749.1 795.5,732.9 796.2,735.1 796.9,737.6 797.7,736.8 798.4,738 799.1,736.9 799.8,733.8 800.6,728.5 801.3,734.6 802,729.8 802.8,732 803.5,734.8 804.2,740.9 804.9,743.2 805.7,732.2 806.4,740.1 807.1,743.2 807.9,738.2 808.6,728.8 809.3,725.9 810,743.2 810.8,743.9 811.5,740.3 812.2,732.4 812.9,747.2 813.7,745.8 814.4,738.6 815.1,737.6 815.9,727.5 816.6,743.5 817.3,729.6 818,743.1 818.8,743.3 819.5,739.7 820.2,748.5 821,737.5 821.7,742.7 822.4,744 823.1,740.9 823.9,737 824.6,746.6" fill="none" stroke="none" marker-start="url(#o)" marker-mid="url(#o)" marker-end="url(#o)"/>
<path d="M60.8 739l5.5-1.1 5-1.4 5-1.8 4.5-1.9 4-2.1 4-2.5 4-3 3.5-3 3.5-3.6 3-3.6 3-4.1 2.5-4 2.5-4.5 2.5-5.3 2.5-6 2-5.5 3.5-11.3 3.5-13.6 3.5-16.4 3.5-19.1 3-18.7 3-20.5 12-89 2.5-16.3 2-11.5 2-9.5 2-7.3 1-2.8 1-2.1 1-1.4 1-0.7 1-0.1 1 0.6 1 1.2 1 1.9 2 5.3 2.5 9.4 2 9.3 2.5 13.1 8 46 3.5 18.9 4 19.2 3.5 14 3.5 11.5 3.5 8.8 2 4.1 2 3.3 2 2.6 2 2.1 2.5 1.7 2.5 1 2.5 0.2 3-0.6 3-1.6 2.5-2.1 2.5-2.7 2.5-3.5 2.5-4.1 2-3.8 2.5-5.4 2.5-6.1 4.5-12.4 9-27.4 2-5.5 2-4.7 2.5-4.7 2-2.4 1-0.8 1-0.4 1-0.1 1 0.2 1.5 0.9 2 2.1 2 3 2.5 4.6 3.5 7.5 11 25.2 6 13 28 56.4 7.5 14.7 5.5 9.8 4.5 7 4 5.3 4 4.1 3.5 2.5 3 1.2 3 0.5 1.5-0.1 2-0.4 3-1.2 3-1.8 9.5-7.3 4-2.7 3.5-1.6 3.5-0.7 3 0.2 3.5 0.8 3 1.3 6.5 3.2 3.5 1.2 3.5 0.6 3-0.4 3-1.1 3.5-2.3 3.5-3 7.5-7.3 4-3.1 2-1 2-0.6 2-0.1 2 0.4 2.5 1.3 2.5 2.1 2.5 3 3 4.5 5 9.3 12.5 26 4 7.2 3.5 5.3 4 4.9 3.5 3 2 1.3 2 0.8 2 0.4 1.5 0 2-0.3 2-0.7 2-1.2 2-1.5 4-4.1 7.5-9.3 3-3.4 3-2.7 3-1.7 1.5-0.5 1.5-0.1 3 0.3 3 1.2 8 4.1 2.5 0.9 2.5 0.3 3-0.3 2.5-0.8 3-1.9 3-2.5 2.5-2.6 3-3.7 6.5-9.3 6.5-10.6 13.5-23.3 6.5-10.8 7-10.8 13-19 5.5-9.1 2.5-4.8 2.5-5.4 4-10.1 4-12.4 3.5-13.2 3.5-15.4 4-20.4 3.5-20.1 8-48.6 3.5-18.6 2-8.6 2-6.4 1-2.2 1-1.5 1-0.8 0.5-0.1 1 0.4 1 1.2 1 2 1.5 4.5 2 8.5 2.5 14.3 4 28.8 8.5 69.9 4 31 4.5 31 4 23.6 4 19.8 2 8.5 2.5 9.5 2 6.7 2.5 7.4 2.5 6.4 2.5 5.5 3 5.6 3 4.6 3.5 4.4 3.5 3.6 4 3.4 4.5 3 5 2.7 5.5 2.3 6.5 2.2 7 1.9 8 1.8 8.5 1.5 9.5 1.3 11 1.2 25 1.9" fill="none" stroke="#000" stroke-width="5.3" stroke-linejoin="round" stroke-linecap="round"/>
<path d="M57.8 739.6l14.5-1.4 11.5-1.7 5-1.1 4.5-1.1 3.5-1.2 3.5-1.4 3-1.5 2.5-1.6 2.5-1.9 2.5-2.4 2.5-3 2-2.8 2-3.4 2-4 3-7.1 3-9 3-10.9 3-12.9 3-15.1 3.5-20.2 10.5-69.4 4-23.8 2-9.5 2-7.4 1-2.7 1-1.9 1-1.3 1-0.5 0.5 0 1 0.7 1 1.4 1 2.2 2 6.3 2 8.8 2 10.6 2 12.1 9 60 5 30.3 2.5 13.2 2.5 11.7 2.5 10.2 2.5 8.8 2.5 7.5 3 7.3 3 5.9 3.5 5.2 3.5 3.9 4 3.3 4.5 2.6 5.5 2.2 7 1.9 8.5 1.6 10 1.4 12 1.1 14 0.9 16.5 0.8 42.5 1.1 58 0.6 86.5 0.4 348 0.4" fill="none" stroke="#000000" stroke-width="3.0" stroke-linejoin="round"/>
<path d="M57.8 742.8l9.5-0.9 8-1.1 7.5-1.6 6.5-1.8 6.5-2.3 6-2.7 6-3.4 6-4 5.5-4.3 5-4.4 5.5-5.5 5.5-6 10-12.2 17-22.5 6-7.7 6-7.1 5.5-5.8 3.5-3.2 3-2.4 3-2.1 3-1.8 3-1.3 3-1 3-0.5 2.5-0.2 3 0.2 3 0.6 3 1 3 1.4 3 1.7 3 2.1 3 2.5 3.5 3.2 5.5 5.8 6 7.1 22 29 9.5 11.7 5 5.6 4.5 4.7 5 4.7 4.5 3.8 4.5 3.4 5 3.3 5 2.9 5 2.4 5.5 2.2 5.5 1.8 6 1.5 6 1.2 10 1.4 11.5 0.8 14 0.6 19.5 0.2 440.5 0.1" fill="none" stroke="#ff0000" stroke-width="3.7" stroke-linejoin="round"/>
<path d="M57.8 743.9l141-0.1 7-0.5 5-0.7 4.5-1.5 3.5-2 2-1.6 2-2 2-2.5 2-3.1 3.5-7 3.5-9.3 3.5-11.8 3.5-14.1 3.5-16 7.5-36.3 2.5-11.1 2-7.7 2.5-8.1 2-4.8 1.5-2.5 1-1.2 1-0.7 1-0.2 1 0.2 1 0.7 1 1.1 1.5 2.5 2 4.7 2.5 8 4 16.4 8.5 41 4 17.9 4 15.3 2 6.4 2 5.7 2 4.8 2.5 5.1 2 3.2 2.5 3.3 2.5 2.5 2.5 1.8 3 1.6 3.5 1.1 4 0.8 4.5 0.4 15 0.3 485.5 0" fill="none" stroke="#00f000" stroke-width="3.7" stroke-linejoin="round"/>
<path d="M57.8 743.8l118-0.1 55.5-0.5 11-0.3 7.5-0.5 6-1 4.5-1.3 2.5-1.1 2.5-1.4 4-3.2 2-2.1 2-2.5 2-2.9 2-3.4 3.5-7 4-9.6 4-11.2 8.5-25.4 2.5-6.7 2-4.8 2.5-4.9 2-2.9 1.5-1.5 1-0.6 1-0.4 1-0.1 1 0.2 1 0.5 1 0.7 1.5 1.6 2 3.1 2.5 5 4 10.3 9 26.8 4 11.1 4.5 10.6 4 7.5 2 3 2.5 3.2 2.5 2.7 2.5 2 2.5 1.7 3 1.4 3.5 1.2 3.5 0.8 7 0.8 10 0.5 50.5 0.5 111.5 0.2 282 0.1" fill="none" stroke="#0000ff" stroke-width="3.7" stroke-linejoin="round"/>
<path d="M57.8 743.6l124.5-0.3 39.5-0.4 30.5-0.5 24.5-0.7 18.5-0.9 13.5-1.1 10-1.6 8-2 6.5-2.5 3-1.6 3-1.8 3-2.1 3-2.5 5.5-5.4 5.5-6.6 5-7 10.5-15.6 4.5-5.8 2.5-2.5 2.5-1.9 2.5-1.1 2-0.3 2 0.3 2.5 1.1 2.5 2 2.5 2.5 4.5 5.9 10.5 15.6 5.5 7.6 6 7 3 3 3 2.6 3 2.3 3.5 2.2 3.5 1.9 3.5 1.5 3.5 1.2 4 1.2 4.5 1 5 0.8 13 1.4 18 1 24.5 0.8 32 0.6 96 0.6 186.5 0.3" fill="none" stroke="#00f0f0" stroke-width="3.7" stroke-linejoin="round"/>
<path d="M57.8 743.8l178.5-0.2 84.5-0.5 27-0.5 20-0.7 14-0.9 9.5-1.3 3.5-0.8 3.5-1.1 3-1.2 2.5-1.4 2.5-1.7 2.5-2.2 2.5-2.6 2-2.4 4-6.1 4.5-8.6 3.5-7.8 8-19.4 3.5-7.4 2-3.3 1.5-1.8 2-1.6 1.5-0.4 1.5 0.3 2 1.4 1.5 1.7 2 3.2 3.5 7.2 8 19.4 4 9 4.5 8.5 4 5.9 2 2.5 2.5 2.5 2.5 2.1 2.5 1.7 2.5 1.4 3 1.2 3.5 1.1 3.5 0.8 9.5 1.2 14.5 1 20 0.7 26.5 0.4 84 0.5 177 0.2" fill="none" stroke="#ff00ff" stroke-width="3.7" stroke-linejoin="round"/>
<path d="M57.8 743.9l408 0 18.5-0.2 5-0.5 4.5-0.9 3.5-1.1 3.5-1.8 3-2.1 3.5-3.1 9.5-10.5 3.5-3.3 2-1.5 1.5-0.8 2-0.6 1.5-0.1 1.5 0.2 2 0.7 1.5 0.8 2 1.5 3.5 3.5 9 9.9 3 2.7 3 2.2 3 1.7 3.5 1.4 3.5 0.9 4.5 0.6 6.5 0.3 11 0.1 243.5 0" fill="none" stroke="#ff8000" stroke-width="3.7" stroke-linejoin="round"/>
<path d="M57.8 743.9l424 0 24.5-0.5 8.5-0.5 7-0.9 5-0.9 4.5-1.1 4-1.4 4-1.6 4-2.1 3.5-2.2 4-2.9 3.5-3.1 3-2.9 3.5-3.8 3.5-4.2 3.5-4.6 6.5-9.5 15.5-24 4-5.7 4-5 4.5-4.7 2.5-2.1 2-1.3 2-1.1 2-0.8 2-0.4 2-0.2 3.5 0.5 2 0.7 2 0.9 3.5 2.4 4 3.8 4 4.6 4 5.4 5 7.4 15.5 24 5 7 5 6.2 6 6.4 6 5.2 6 3.9 3 1.6 3.5 1.6 6.5 2.2 7 1.6 8 1 9.5 0.7 23.5 0.4 81 0" fill="none" stroke="#909000" stroke-width="3.7" stroke-linejoin="round"/>
<path d="M57.8 743.6l174-0.4 114-0.5 78.5-1 30-0.6 25-0.8 22-1 19-1.2 16.5-1.4 14-1.8 12.5-2.2 11-2.5 9.5-3.1 8-3.4 3.5-1.8 3.5-2.2 3-2.1 3-2.4 3-2.9 2.5-2.7 4.5-6 2.5-4.1 2-3.7 4-8.9 3.5-9.7 3.5-11.8 3-12.1 3-14 3-16.1 3-18.4 5.5-38.9 10-79 3.5-23.2 2-10.3 1.5-5.7 1-2.8 1-1.9 1-1 0.5-0.1 1 0.4 1 1.4 1 2.3 1 3.1 2 8.7 2 11.4 3.5 24.6 8 63.8 3.5 26.2 4.5 30 4 22.5 4 18.8 2 8.1 2.5 8.9 2.5 7.8 2.5 6.8 2.5 5.8 2.5 5.1 3 5.1 3.5 5 3.5 4 4 3.8 4.5 3.5 4.5 2.8 5 2.6 6 2.5 6.5 2.2 7.5 2.1 8 1.7 8.5 1.5 9.5 1.4 11 1.2 25 1.9" fill="none" stroke="#000080" stroke-width="3.7" stroke-linejoin="round"/>
<polyline points="60.8,1076 61.5,1053.1 62.2,1069.8 62.9,1064.4 63.7,1056.4 64.4,1055.7 65.1,1050 65.9,1047.5 66.6,1044.4 67.3,1056.1 68,1041.6 68.8,1032.2 69.5,1030.9 70.2,1030.7 71,1020.4 71.7,1021.1 72.4,1010.5 73.1,1012.9 73.9,1016.7 74.6,987.7 75.3,977.1 76.1,973.9 76.8,963.1 77.5,973.5 78.2,958.8 79,951.9 79.7,944.1 80.4,945 81.1,909.7 81.9,902.3 82.6,894.8 83.3,873.2 84.1,855.5 84.8,856.6 85.5,830.4 86.2,824.7 87,798.3 87.7,815.3 88.4,800.5 89.2,777.6 89.9,795.5 90.6,794.5 91.3,779.4 92.1,775.7 92.8,784 93.5,789.8 94.3,799.5 95,801 95.7,812.6 96.4,827.1 97.2,803.6 97.9,810.6 98.6,868.3 99.4,867.7 100.1,840.1 100.8,860.4 101.5,902.3 102.3,884.6 103,940.8 103.7,947.6 104.4,955.3 105.2,953.9 105.9,986.3 106.6,1022.6 107.4,986.1 108.1,1026 108.8,1039.9 109.5,1047.2 110.3,1032.5 111,1039.1 111.7,1052.9 112.5,1065 113.2,1081.2 113.9,1072.9 114.6,1082.7 115.4,1079 116.1,1089 116.8,1082.8 117.6,1087.5 118.3,1083.8 119,1100.3 119.7,1094.8 120.5,1097.8 121.2,1099.5 121.9,1098.7 122.7,1093.9 123.4,1094.6 124.1,1095.4 124.8,1105.7 125.6,1093.6 126.3,1096.9 127,1098.1 127.8,1101.9 128.5,1103.7 129.2,1095.5 129.9,1093.3 130.7,1101.3 131.4,1107 132.1,1104.8 132.8,1102.5 133.6,1100.1 134.3,1102.9 135,1100.2 135.8,1105.3 136.5,1097.8 137.2,1101.7 137.9,1100.7 138.7,1103.7 139.4,1102.1 140.1,1112.5 140.9,1106.7 141.6,1106.7 142.3,1090 143,1097.9 143.8,1095.7 144.5,1100.9 145.2,1087.9 146,1103.2 146.7,1101.8 147.4,1089.6 148.1,1091.3 148.9,1091.2 149.6,1093.5 150.3,1097.6 151.1,1103.9 151.8,1091.2 152.5,1095.5 153.2,1092.4 154,1099.1 154.7,1094.1 155.4,1096 156.1,1084.4 156.9,1087.6 157.6,1085.1 158.3,1095.6 159.1,1091 159.8,1086.3 160.5,1085.4 161.2,1089.9 162,1084.2 162.7,1083.4 163.4,1090.2 164.2,1099.6 164.9,1087.1 165.6,1086.1 166.3,1083.7 167.1,1083.7 167.8,1093.7 168.5,1095.6 169.3,1092.9 170,1094.7 170.7,1093.3 171.4,1095.2 172.2,1087.5 172.9,1092.2 173.6,1095.9 174.4,1092.5 175.1,1094 175.8,1093.2 176.5,1095.6 177.3,1101.8 178,1095.8 178.7,1097.5 179.5,1102.2 180.2,1101.9 180.9,1106.5 181.6,1089.2 182.4,1103.5 183.1,1097.1 183.8,1100.1 184.5,1103.5 185.3,1104.6 186,1104.4 186.7,1100.1 187.5,1107 188.2,1097.6 188.9,1098.5 189.6,1102.3 190.4,1096.3 191.1,1108.8 191.8,1102.8 192.6,1107.5 193.3,1097.3 194,1095.8 194.7,1096.9 195.5,1099.3 196.2,1093.1 196.9,1097.2 197.7,1094.5 198.4,1101.2 199.1,1089.1 199.8,1098.3 200.6,1086.3 201.3,1086 202,1086.7 202.8,1082.6 203.5,1088.8 204.2,1090.3 204.9,1086.3 205.7,1089.1 206.4,1093.2 207.1,1085.8 207.8,1084.5 208.6,1080.6 209.3,1074.3 210,1083.8 210.8,1071.8 211.5,1083.2 212.2,1078.7 212.9,1085.6 213.7,1078.4 214.4,1073.3 215.1,1079.1 215.9,1074 216.6,1075.2 217.3,1076.3 218,1074.6 218.8,1074.5 219.5,1071.1 220.2,1071.3 221,1062.5 221.7,1071.6 222.4,1063.4 223.1,1074.5 223.9,1076 224.6,1058.6 225.3,1067.6 226.1,1066.2 226.8,1058.1 227.5,1065.4 228.2,1058.9 229,1049.6 229.7,1055.8 230.4,1052.6 231.1,1052.7 231.9,1050.2 232.6,1052.9 233.3,1055.9 234.1,1044.7 234.8,1040.7 235.5,1044.9 236.2,1039.4 237,1046.3 237.7,1040.1 238.4,1031.9 239.2,1028 239.9,1027.5 240.6,1039.8 241.3,1029.2 242.1,1026.5 242.8,1025.2 243.5,1015.4 244.3,1028.5 245,1011.1 245.7,1015.6 246.4,1013.6 247.2,1012.9 247.9,1001.2 248.6,1018.7 249.4,1005.2 250.1,1004.2 250.8,999.5 251.5,998 252.3,1004.8 253,1006.9 253.7,1005.8 254.5,1008.1 255.2,1006 255.9,1002.3 256.6,1006.5 257.4,1006.5 258.1,1005 258.8,1008.9 259.5,1014 260.3,1013.6 261,1007 261.7,1014.6 262.5,1021.2 263.2,1011.9 263.9,1019.4 264.6,1017.5 265.4,1024.7 266.1,1010.5 266.8,1027.1 267.6,1035.8 268.3,1023.3 269,1041.8 269.7,1035.9 270.5,1034.4 271.2,1041.1 271.9,1034.2 272.7,1039.1 273.4,1054.7 274.1,1043.9 274.8,1056.4 275.6,1051.7 276.3,1060.1 277,1058.2 277.8,1045.8 278.5,1056.2 279.2,1062.7 279.9,1055.8 280.7,1057.5 281.4,1069.3 282.1,1065.4 282.8,1059.3 283.6,1067.3 284.3,1073.8 285,1073.1 285.8,1079.7 286.5,1085.2 287.2,1076.9 287.9,1073.7 288.7,1074.7 289.4,1082.9 290.1,1085.8 290.9,1086.3 291.6,1087.6 292.3,1083 293,1089 293.8,1085.2 294.5,1086.8 295.2,1082.5 296,1082.7 296.7,1088.7 297.4,1086.2 298.1,1087 298.9,1096.2 299.6,1093.6 300.3,1109.7 301.1,1099.6 301.8,1093.3 302.5,1100 303.2,1097.8 304,1094.1 304.7,1102.6 305.4,1094.4 306.1,1083.9 306.9,1102.7 307.6,1096.2 308.3,1108 309.1,1097 309.8,1094.7 310.5,1108.6 311.2,1095.8 312,1102.4 312.7,1108.9 313.4,1101.8 314.2,1102.3 314.9,1102.7 315.6,1106.6 316.3,1099.2 317.1,1106.3 317.8,1106 318.5,1115.2 319.3,1102 320,1099.5 320.7,1107.6 321.4,1102.4 322.2,1106.2 322.9,1105.6 323.6,1110.8 324.4,1102.2 325.1,1104.9 325.8,1093 326.5,1101.3 327.3,1113.6 328,1102.7 328.7,1102.8 329.5,1100.3 330.2,1109.3 330.9,1107.5 331.6,1100.9 332.4,1110 333.1,1108.1 333.8,1110.6 334.5,1104 335.3,1115.8 336,1109.4 336.7,1106.9 337.5,1104.9 338.2,1106.5 338.9,1111.9 339.6,1106.3 340.4,1113.2 341.1,1110.8 341.8,1114.7 342.6,1111.9 343.3,1107.7 344,1099 344.7,1109.6 345.5,1112.1 346.2,1109.1 346.9,1111.1 347.7,1106.1 348.4,1106.7 349.1,1104 349.8,1115.2 350.6,1109.4 351.3,1106.2 352,1102.2 352.8,1107.9 353.5,1115.7 354.2,1110.9 354.9,1105.2 355.7,1115.6 356.4,1115.6 357.1,1113.4 357.8,1112.5 358.6,1114.2 359.3,1111.2 360,1112.3 360.8,1104.7 361.5,1115.8 362.2,1109.6 362.9,1118.3 363.7,1098.4 364.4,1111.5 365.1,1112.8 365.9,1106.4 366.6,1110.2 367.3,1111.4 368,1110.5 368.8,1105.2 369.5,1107 370.2,1112.3 371,1113.5 371.7,1107.2 372.4,1107.2 373.1,1107.8 373.9,1111.6 374.6,1100.8 375.3,1099.8 376.1,1106.3 376.8,1100.1 377.5,1102.1 378.2,1105.4 379,1107.3 379.7,1099.2 380.4,1108.2 381.2,1095.1 381.9,1106.4 382.6,1095 383.3,1096.9 384.1,1105.8 384.8,1100.7 385.5,1098.2 386.2,1099.6 387,1103.6 387.7,1100.4 388.4,1100.7 389.2,1105.8 389.9,1095.8 390.6,1097.2 391.3,1096.7 392.1,1103.8 392.8,1102.7 393.5,1105.3 394.3,1097.3 395,1095.6 395.7,1100.2 396.4,1094.2 397.2,1098.8 397.9,1099 398.6,1091.2 399.4,1093.6 400.1,1093 400.8,1101.3 401.5,1105 402.3,1091.7 403,1091.1 403.7,1080.2 404.5,1092 405.2,1089.5 405.9,1084.5 406.6,1092.9 407.4,1081.4 408.1,1087.6 408.8,1088.9 409.5,1081.4 410.3,1091.8 411,1092.2 411.7,1079.3 412.5,1078.7 413.2,1088.8 413.9,1085.1 414.6,1078.8 415.4,1083.7 416.1,1084.5 416.8,1083.1 417.6,1087.8 418.3,1085.7 419,1092.4 419.7,1090.5 420.5,1086.9 421.2,1088.3 421.9,1089.8 422.7,1086.1 423.4,1076.4 424.1,1086.8 424.8,1082.6 425.6,1090.4 426.3,1082.7 427,1084.9 427.8,1083.9 428.5,1090.8 429.2,1083.2 429.9,1081.1 430.7,1084 431.4,1080.4 432.1,1083.5 432.8,1082.6 433.6,1084.3 434.3,1093.2 435,1081.3 435.8,1083.9 436.5,1083 437.2,1087.2 437.9,1078.7 438.7,1081.5 439.4,1085.1 440.1,1088.3 440.9,1085 441.6,1083 442.3,1081.4 443,1088.6 443.8,1093.7 444.5,1089.1 445.2,1089 446,1089.8 446.7,1083.8 447.4,1086.5 448.1,1087.5 448.9,1090.4 449.6,1088.9 450.3,1084.1 451.1,1096.2 451.8,1099.2 452.5,1089.7 453.2,1093.2 454,1093.3 454.7,1096.1 455.4,1085.5 456.2,1100.7 456.9,1091.3 457.6,1100.3 458.3,1095.1 459.1,1093 459.8,1094.3 460.5,1099.4 461.2,1090.6 462,1093.9 462.7,1094.1 463.4,1088.4 464.2,1102.3 464.9,1099.5 465.6,1096.9 466.3,1102.9 467.1,1092.9 467.8,1097.4 468.5,1106.4 469.3,1103 470,1087 470.7,1081.9 471.4,1093.3 472.2,1104 472.9,1096.3 473.6,1097.8 474.4,1102 475.1,1094.6 475.8,1100.1 476.5,1103 477.3,1101.4 478,1101 478.7,1096 479.5,1101.5 480.2,1096.7 480.9,1105.3 481.6,1111.5 482.4,1094.9 483.1,1087.8 483.8,1096.2 484.5,1100.1 485.3,1103 486,1102.8 486.7,1094.1 487.5,1093.3 488.2,1103.6 488.9,1091.7 489.6,1102.4 490.4,1095.4 491.1,1100.6 491.8,1099.9 492.6,1100 493.3,1099.6 494,1090.1 494.7,1096.2 495.5,1094.6 496.2,1096 496.9,1100.7 497.7,1092 498.4,1089.6 499.1,1089 499.8,1090.2 500.6,1095.8 501.3,1087.6 502,1098 502.8,1091.8 503.5,1089.1 504.2,1083.5 504.9,1090.3 505.7,1092.8 506.4,1079.8 507.1,1092.7 507.9,1095.2 508.6,1088 509.3,1088.3 510,1097.5 510.8,1091.3 511.5,1078.7 512.2,1084.1 512.9,1082.3 513.7,1082.4 514.4,1070.7 515.1,1087.2 515.9,1079.3 516.6,1080.5 517.3,1078.4 518,1084.2 518.8,1077.4 519.5,1073.8 520.2,1081 521,1082.9 521.7,1075.5 522.4,1083.2 523.1,1078.4 523.9,1070.7 524.6,1081.6 525.3,1067.8 526.1,1078.4 526.8,1069.1 527.5,1073.5 528.2,1064.1 529,1064.1 529.7,1073 530.4,1068.5 531.2,1068.4 531.9,1064.3 532.6,1067.9 533.3,1058.2 534.1,1059 534.8,1063.4 535.5,1060.2 536.2,1059.4 537,1061 537.7,1061.9 538.4,1060 539.2,1068.6 539.9,1066.1 540.6,1065.7 541.3,1059.6 542.1,1055.6 542.8,1050.6 543.5,1055.4 544.3,1045.3 545,1052.4 545.7,1058.8 546.4,1064.2 547.2,1057.3 547.9,1048.3 548.6,1055.4 549.4,1047.7 550.1,1055 550.8,1050.3 551.5,1054.4 552.3,1063 553,1053 553.7,1060.7 554.5,1048 555.2,1044.8 555.9,1053.4 556.6,1054.1 557.4,1042.1 558.1,1045.7 558.8,1036.2 559.5,1042.4 560.3,1047.8 561,1041.9 561.7,1037.8 562.5,1033.9 563.2,1042.9 563.9,1045 564.6,1042.8 565.4,1041.2 566.1,1032.9 566.8,1049 567.6,1038.1 568.3,1037.1 569,1042.4 569.7,1026.2 570.5,1036.6 571.2,1035.7 571.9,1038.9 572.7,1043.6 573.4,1038.2 574.1,1025.9 574.8,1033.7 575.6,1036.4 576.3,1036 577,1027.8 577.8,1025.4 578.5,1037.5 579.2,1035.9 579.9,1033.6 580.7,1024.5 581.4,1043 582.1,1018 582.9,1031.3 583.6,1044.6 584.3,1032.3 585,1034.5 585.8,1026.8 586.5,1040.4 587.2,1026.1 587.9,1034.4 588.7,1033.8 589.4,1027.5 590.1,1038 590.9,1025.7 591.6,1029.6 592.3,1033.3 593,1031.1 593.8,1036 594.5,1038.5 595.2,1032.4 596,1030.8 596.7,1031.1 597.4,1032.7 598.1,1039.3 598.9,1033.9 599.6,1036.8 600.3,1034.7 601.1,1031.2 601.8,1040.3 602.5,1030 603.2,1036.2 604,1043.9 604.7,1030.6 605.4,1037.6 606.2,1029.3 606.9,1034.6 607.6,1029.7 608.3,1036.8 609.1,1035.8 609.8,1040.2 610.5,1047.7 611.2,1041.4 612,1044 612.7,1040.1 613.4,1039.1 614.2,1036.7 614.9,1032.3 615.6,1042.8 616.3,1051.5 617.1,1045.9 617.8,1041.3 618.5,1052.5 619.3,1043.3 620,1043.1 620.7,1039.6 621.4,1041.3 622.2,1046.1 622.9,1057.9 623.6,1046.7 624.4,1042.7 625.1,1045.1 625.8,1047.3 626.5,1041.1 627.3,1051.4 628,1053.6 628.7,1052.7 629.5,1054.8 630.2,1045.2 630.9,1043.4 631.6,1059.4 632.4,1058.1 633.1,1046 633.8,1055.3 634.6,1056.1 635.3,1058.6 636,1056.7 636.7,1053.7 637.5,1058.5 638.2,1058.7 638.9,1057.4 639.6,1048.5 640.4,1042.5 641.1,1054.6 641.8,1050.8 642.6,1060.5 643.3,1064.2 644,1060.9 644.7,1058.7 645.5,1061.5 646.2,1067.3 646.9,1058.5 647.7,1066.1 648.4,1065.5 649.1,1063.8 649.8,1070.1 650.6,1059.3 651.3,1067.8 652,1059 652.8,1059.5 653.5,1058.4 654.2,1066.6 654.9,1059.8 655.7,1064.8 656.4,1058.7 657.1,1069.9 657.9,1073.9 658.6,1065.9 659.3,1073.3 660,1068.2 660.8,1076.2 661.5,1065.8 662.2,1057.6 662.9,1073 663.7,1065.3 664.4,1060.4 665.1,1062.8 665.9,1057.8 666.6,1065.3 667.3,1060.9 668,1074.3 668.8,1070.2 669.5,1059.6 670.2,1059.5 671,1064.4 671.7,1058.5 672.4,1067.8 673.1,1068.2 673.9,1064.3 674.6,1067.3 675.3,1072.5 676.1,1077.5 676.8,1077.8 677.5,1071.8 678.2,1075.7 679,1068.7 679.7,1074.8 680.4,1069.7 681.2,1077.5 681.9,1068.5 682.6,1071.6 683.3,1076.4 684.1,1079.7 684.8,1070.4 685.5,1076.5 686.2,1079.3 687,1081.4 687.7,1078.1 688.4,1082.1 689.2,1080.1 689.9,1088.6 690.6,1086.3 691.3,1076.8 692.1,1073 692.8,1085.5 693.5,1091.2 694.3,1088.4 695,1090.8 695.7,1087 696.4,1081.8 697.2,1093.2 697.9,1091 698.6,1094.1 699.4,1085 700.1,1092 700.8,1087.9 701.5,1096.5 702.3,1089.6 703,1090.6 703.7,1091.9 704.5,1100.6 705.2,1094.9 705.9,1091.3 706.6,1090.9 707.4,1091.2 708.1,1103 708.8,1088.3 709.6,1092.8 710.3,1100.7 711,1103.4 711.7,1097.7 712.5,1102.5 713.2,1102.3 713.9,1103.7 714.6,1099.4 715.4,1107.7 716.1,1100.8 716.8,1107.3 717.6,1094.6 718.3,1105 719,1093.8 719.7,1093 720.5,1102.9 721.2,1096.7 721.9,1103 722.7,1095.5 723.4,1109 724.1,1101.1 724.8,1095.4 725.6,1102.2 726.3,1105.7 727,1097.3 727.8,1104 728.5,1111.9 729.2,1105.9 729.9,1101.3 730.7,1098.4 731.4,1104.4 732.1,1093.4 732.9,1085.3 733.6,1097.8 734.3,1095.6 735,1110.6 735.8,1102 736.5,1095.9 737.2,1095 737.9,1103.9 738.7,1096.7 739.4,1098 740.1,1100.5 740.9,1101.4 741.6,1101.5 742.3,1101.5 743,1108.1 743.8,1110.3 744.5,1091.7 745.2,1115 746,1101.5 746.7,1107.6 747.4,1096.5 748.1,1102.5 748.9,1101.8 749.6,1101.2 750.3,1105.4 751.1,1104.1 751.8,1094.9 752.5,1099.9 753.2,1104.7 754,1104.4 754.7,1098.6 755.4,1098.9 756.2,1099.7 756.9,1094.3 757.6,1093.2 758.3,1109.6 759.1,1098.5 759.8,1101.4 760.5,1096.5 761.2,1108.3 762,1110.9 762.7,1099.8 763.4,1104 764.2,1096.8 764.9,1111.4 765.6,1106.5 766.3,1096.4 767.1,1108.7 767.8,1103.6 768.5,1104.1 769.3,1104 770,1098.2 770.7,1099.3 771.4,1105.8 772.2,1102.2 772.9,1097.3 773.6,1114.4 774.4,1101.7 775.1,1099.9 775.8,1099.1 776.5,1107.2 777.3,1109.1 778,1105.3 778.7,1108.8 779.5,1095.7 780.2,1102.6 780.9,1102.2 781.6,1104.7 782.4,1107.8 783.1,1093.6 783.8,1123.1 784.6,1100.7 785.3,1107.7 786,1110.7 786.7,1110.9 787.5,1107.5 788.2,1089.9 788.9,1100.5 789.6,1111.3 790.4,1101.8 791.1,1101.3 791.8,1094.2 792.6,1114.2 793.3,1110.5 794,1102.9 794.7,1107.2 795.5,1107.4 796.2,1102.2 796.9,1106.9 797.7,1109.9 798.4,1112.3 799.1,1115.9 799.8,1109.3 800.6,1106.6 801.3,1111.7 802,1106.1 802.8,1102.5 803.5,1116.3 804.2,1107.9 804.9,1110.7 805.7,1114.2 806.4,1104.2 807.1,1114.2 807.9,1113.2 808.6,1110.2 809.3,1113.2 810,1106.8 810.8,1098.9 811.5,1109.4 812.2,1106 812.9,1116.4 813.7,1112.9 814.4,1108.7 815.1,1112 815.9,1119.6 816.6,1118.4 817.3,1114.3 818,1114.6 818.8,1110.8 819.5,1111.6 820.2,1115.8 821,1111.8 821.7,1114.1 822.4,1106.2 823.1,1103.2 823.9,1103.2 824.6,1110.1" fill="none" stroke="none" marker-start="url(#o)" marker-mid="url(#o)" marker-end="url(#o)"/>
<path d="M60.8 1069.8l2-6 1.5-5.1 2-8.1 1.5-7.1 3-17.7 3-23.6 2.5-25.3 2.5-31 2.5-36.4 4.5-70.8 2-27.2 1.5-15.7 1-7.4 1-4.6 0.5-1.1 0.5-0.3 0.5 0.5 0.5 1.3 1 5.1 1 8.3 1.5 17.8 2.5 40.9 5 97.3 2 35.4 2.5 36.8 2.5 27.5 1.5 12.3 1.5 9.6 1.5 7.2 1.5 5.5 2 5 2 3.2 2.5 2.5 2.5 1.5 3.5 1 3.5 0.4 3.5-0.2 3.5-0.8 3-1.3 3-1.9 10-8 2.5-1.3 2-0.4 2 0.2 2 0.8 2.5 1.6 5.5 4.3 3 2.1 3.5 1.7 3 0.9 3.5 0.3 2-0.3 2-0.5 3.5-1.5 3.5-2.3 4-3.7 6.5-7.3 2.5-2.5 2.5-2.1 5.5-3.8 2.5-2.2 3-3.5 2.5-3.7 3.5-6.6 4-9.5 3.5-9.7 7-21 3.5-9.1 2-4.2 1.5-2.3 1-1.2 1-0.8 1.5-0.5 1.5 0.4 1 0.7 1 1 1.5 2.3 2 4 3.5 9.2 9 27.6 5 13.9 3 7.2 3 6.3 3 5.4 3 4.7 3.5 4.6 3.5 3.7 4 3.4 4 2.7 4.5 2.3 5 2.1 6 1.8 6.5 1.5 6 1 6.5 0.8 6.5 0.6 6 0.3 5.5-0.1 5-0.3 5-0.6 4.5-1 7-2.1 7.5-3.4 6.5-3.6 14-8.8 6-3.2 3-1.3 3-1 3-0.7 3-0.3 3 0 3 0.3 3 0.7 3.5 1.1 6 2.6 15.5 7.9 4.5 1.8 4.5 1.3 5 0.9 4.5 0.2 4.5-0.4 5-1.1 5.5-2 5.5-2.6 6-3.6 6.5-4.5 5.5-4.4 6.5-5.5 19-17.3 7-6.2 7-5.6 6-4.2 7-4 3.5-1.6 3-1.1 3.5-0.9 3-0.6 3-0.3 3-0.1 4.5 0.3 5 1 5 1.7 5 2.1 4.5 2.4 5 3 20.5 13.3 5 2.7 4.5 2.1 3.5 1.3 4 1.2 13.5 2.5 3 1 2.5 1.2 3 1.8 3.5 2.7 13 12.7 6 5.1 3 2.1 3.5 2.1 3.5 1.8 3.5 1.3 3 0.9 3.5 0.8 3.5 0.5 4 0.3 7 0.1 19-1 6 0.1 6 0.6 5.5 0.8 5.5 1.2 20 5.2 9 2 10 1.6 10.5 1.1" fill="none" stroke="#000" stroke-width="5.3" stroke-linejoin="round" stroke-linecap="round"/>
<path d="M57.8 1091.2l3-5.6 2.5-3.3 1.5-1.2 1-0.4 1-0.1 1.5 0.5 2 1.8 2 2.8 9 17.2 2.5 3.8 2.5 3 3 2.4 3 1.4 4 0.9 5.5 0.4 726.5 0.1" fill="none" stroke="#000000" stroke-width="3.0" stroke-linejoin="round"/>
<path d="M57.8 1110.7l3.5-1.2 1.5-0.8 1.5-1.2 2-2.4 2-3.8 2-6 1.5-6.6 1.5-9 1.5-11.9 2.5-27.5 2.5-38 2.5-47.9 4.5-96.4 2-37.1 1-14.7 1-11.4 1-7.5 0.5-2.2 0.5-1.1 0.5 0 0.5 1.2 1 5.5 1 9.6 1 13.2 2.5 44.9 4.5 96.4 2 39 2.5 40.1 2.5 29.4 1 9 1.5 10.8 1.5 8.1 1.5 5.9 1.5 4.3 2 3.8 1 1.3 1.5 1.4 1.5 1.1 1.5 0.7 3.5 1.2 5 0.9 6.5 0.8 8.5 0.6 22.5 0.8 35.5 0.5 141 0.3 480.5 0.1" fill="none" stroke="#ff0000" stroke-width="3.7" stroke-linejoin="round"/>
<path d="M57.8 1114.9l67.5 0 6.5-0.2 4.5-0.6 4-1.1 2-1 2-1.3 2-1.7 2-1.9 6.5-7.6 2.5-2.5 2.5-1.7 1.5-0.5 1-0.1 1 0.1 1.5 0.5 2.5 1.7 2.5 2.4 7 8.1 2.5 2.3 2.5 1.8 3 1.5 3 0.9 3.5 0.5 4.5 0.3 632.5 0.1" fill="none" stroke="#00f000" stroke-width="3.7" stroke-linejoin="round"/>
<path d="M57.8 1114.9l114.5-0.1 24.5-0.2 3.5-0.5 1.5-0.4 1.5-0.7 2-1.5 4.5-4.5 1-0.7 1-0.2 1 0.2 1 0.6 5 5 1.5 1 1.5 0.7 2 0.6 2 0.3 7.5 0.2 62 0.2 533 0" fill="none" stroke="#0000ff" stroke-width="3.7" stroke-linejoin="round"/>
<path d="M57.8 1113.6l34-0.6 27-0.9 21.5-1.1 17.5-1.5 14-1.8 6.5-1.2 5.5-1.3 5-1.4 5-1.7 4.5-1.9 4-2 3.5-2.1 3.5-2.6 3-2.5 3-3 2.5-2.8 2.5-3.3 2.5-3.8 2.5-4.3 4.5-9.4 4-10.3 3.5-10.5 7-23 3-8.6 1.5-3.4 1.5-2.5 1.5-1.6 1.5-0.6 1 0.2 1.5 1.2 1.5 2.2 1.5 3.1 3.5 9.7 8.5 27.7 4.5 12.6 2.5 5.9 3 6.2 3 5.3 3.5 5.1 4 4.8 4 3.9 4.5 3.5 5 3.1 5.5 2.7 6 2.2 6.5 1.9 7.5 1.7 8 1.3 9.5 1.2 10.5 1 11.5 0.8 29 1.3 39.5 0.9 52 0.6 73.5 0.4 264.5 0.3" fill="none" stroke="#00f0f0" stroke-width="3.7" stroke-linejoin="round"/>
<path d="M57.8 1114.9l265.5 0 19-0.2 12.5-0.7 7-0.7 6-1.1 6-1.5 5.5-2 5.5-2.4 5.5-3 17.5-11.2 6.5-3.6 3.5-1.5 3.5-1.2 3.5-0.7 3.5-0.3 3.5 0.2 3.5 0.7 3.5 1.1 3.5 1.6 6.5 3.6 12.5 8.1 5.5 3.3 5.5 3 5.5 2.4 5.5 1.9 6 1.6 6.5 1.1 7.5 0.7 12.5 0.6 19.5 0.2 293 0" fill="none" stroke="#ff00ff" stroke-width="3.7" stroke-linejoin="round"/>
<path d="M57.8 1114.9l345.5-0.1 18.5-0.3 14-0.4 12-0.9 10-1.2 11-2.1 5.5-1.4 5-1.5 5-1.9 4.5-1.9 5-2.4 4.5-2.5 4.5-2.8 5-3.4 9.5-7.3 9.5-8.4 22-20.5 6.5-5.5 5.5-4.1 6.5-4.1 3.5-1.8 3-1.3 3.5-1.2 3-0.7 3-0.4 3-0.2 5.5 0.4 3 0.7 3 0.9 6 2.5 6 3.5 5.5 3.9 6.5 5.3 7 6.2 21 19.6 7 6 7 5.4 8 5.5 7.5 4.3 8 3.7 8 3 8.5 2.3 9.5 1.9 10.5 1.4 12 0.9 12.5 0.5 16.5 0.3 63.5 0.1" fill="none" stroke="#ff8000" stroke-width="3.7" stroke-linejoin="round"/>
<path d="M57.8 1114.9l428.5-0.3 71-0.5 22.5-0.4 17.5-0.6 13.5-0.9 10-1 8.5-1.6 7-2 6-2.6 5.5-3.1 4.5-3.2 9-7.3 3.5-2.4 3.5-1.6 3-0.5 1.5 0.1 2 0.6 3.5 1.8 3 2.1 10.5 8.4 4 2.7 4 2.2 4 1.9 4.5 1.6 4.5 1.2 5 1.1 6.5 0.9 7.5 0.8 20.5 1.1 30.5 0.7 45.5 0.4" fill="none" stroke="#909000" stroke-width="3.7" stroke-linejoin="round"/>
<path d="M57.8 1114.9l555.5 0 42-0.2 19.5-0.7 15.5-1.3 14-2.1 22.5-4.4 8-1.4 9-1.1 8-0.3 7.5 0.3 8 0.8 8.5 1.4 19.5 3.9 10 1.7 11 1.5 12 1" fill="none" stroke="#000080" stroke-width="3.7" stroke-linejoin="round"/>
</g>
<rect x="60.8" y="3.5" width="764.5" height="1146" fill="none" stroke="#000" stroke-width="2.6"/>
<line x1="157.8" y1="1149.5" x2="157.8" y2="1157.8" stroke="#000" stroke-width="2.6" stroke-linecap="round"/>
<line x1="279.2" y1="1149.5" x2="279.2" y2="1165" stroke="#000" stroke-width="2.6" stroke-linecap="round"/>
<line x1="400.6" y1="1149.5" x2="400.6" y2="1157.8" stroke="#000" stroke-width="2.6" stroke-linecap="round"/>
<line x1="521.9" y1="1149.5" x2="521.9" y2="1165" stroke="#000" stroke-width="2.6" stroke-linecap="round"/>
<line x1="643.3" y1="1149.5" x2="643.3" y2="1157.8" stroke="#000" stroke-width="2.6" stroke-linecap="round"/>
<line x1="764.6" y1="1149.5" x2="764.6" y2="1165" stroke="#000" stroke-width="2.6" stroke-linecap="round"/>
<text transform="translate(278.8 1208.9) scale(1.04 1)" text-anchor="middle" class="ax" style="font-size:44.2px">400</text>
<text transform="translate(521.5 1208.9) scale(1.04 1)" text-anchor="middle" class="ax" style="font-size:44.2px">600</text>
<text transform="translate(764.2 1208.9) scale(1.04 1)" text-anchor="middle" class="ax" style="font-size:44.2px">800</text>
<text transform="translate(243.1 1267) scale(1.022 1)" class="ax" style="font-size:45px">Wavenumber (cm</text>
<text transform="translate(604.2 1242.4) scale(1.15 1)" class="ax" style="font-size:18.2px">-1</text>
<text transform="translate(629.3 1267) scale(0.95 1)" class="ax" style="font-size:45px">)</text>
<text transform="translate(35.7 691.7) rotate(-90) scale(1.016 1)" class="ax" style="font-size:45.3px">Intensity (a.u.)</text>
<text transform="translate(182.4 130.9) rotate(-90)" text-anchor="middle" class="pk">305</text>
<text transform="translate(234.7 249.2) rotate(-90)" text-anchor="middle" class="pk">339</text>
<text transform="translate(281.8 243.5) rotate(-90)" text-anchor="middle" class="pk">385</text>
<text transform="translate(330.9 267.2) rotate(-90)" text-anchor="middle" class="pk">421</text>
<text transform="translate(409.2 255.7) rotate(-90)" text-anchor="middle" class="pk">492</text>
<text transform="translate(465.9 260.8) rotate(-90)" text-anchor="middle" class="pk">534</text>
<text transform="translate(539.7 286.9) rotate(-90)" text-anchor="middle" class="pk">604</text>
<text transform="translate(636 176.3) rotate(-90)" text-anchor="middle" class="pk">682</text>
<text transform="translate(736.8 54) rotate(-90)" text-anchor="middle" class="pk">724</text>
<text transform="translate(143.9 450) rotate(-90)" text-anchor="middle" class="pk">303</text>
<text transform="translate(236.5 530.7) rotate(-90)" text-anchor="middle" class="pk">339</text>
<text transform="translate(286.1 474.6) rotate(-90)" text-anchor="middle" class="pk">389</text>
<text transform="translate(336.6 546) rotate(-90)" text-anchor="middle" class="pk">426</text>
<text transform="translate(404 615.6) rotate(-90)" text-anchor="middle" class="pk">488</text>
<text transform="translate(463.7 605.2) rotate(-90)" text-anchor="middle" class="pk">535</text>
<text transform="translate(544.3 645) rotate(-90)" text-anchor="middle" class="pk">605</text>
<text transform="translate(618 545.8) rotate(-90)" text-anchor="middle" class="pk">676</text>
<text transform="translate(733.7 430) rotate(-90)" text-anchor="middle" class="pk">720</text>
<text transform="translate(154.5 804.8) rotate(-90)" text-anchor="middle" class="pk">247</text>
<text transform="translate(182.2 1033.5) rotate(-90)" text-anchor="middle" class="pk">304</text>
<text transform="translate(229.1 1018.5) rotate(-90)" text-anchor="middle" class="pk">345</text>
<text transform="translate(271.7 947.1) rotate(-90)" text-anchor="middle" class="pk">379</text>
<text transform="translate(445 1026.2) rotate(-90)" text-anchor="middle" class="pk">526</text>
<text transform="translate(607.6 968.8) rotate(-90)" text-anchor="middle" class="pk">654</text>
<text transform="translate(695.4 1008.7) rotate(-90)" text-anchor="middle" class="pk">723</text>
<text x="786.3" y="299.4" text-anchor="middle" class="pk" style="font-size:44px">(a)</text>
<text x="791.7" y="683.2" text-anchor="middle" class="pk" style="font-size:51px">(b)</text>
<text x="790.3" y="1066.5" text-anchor="middle" class="pk" style="font-size:51px">(c)</text>
</svg>
</body></html>
